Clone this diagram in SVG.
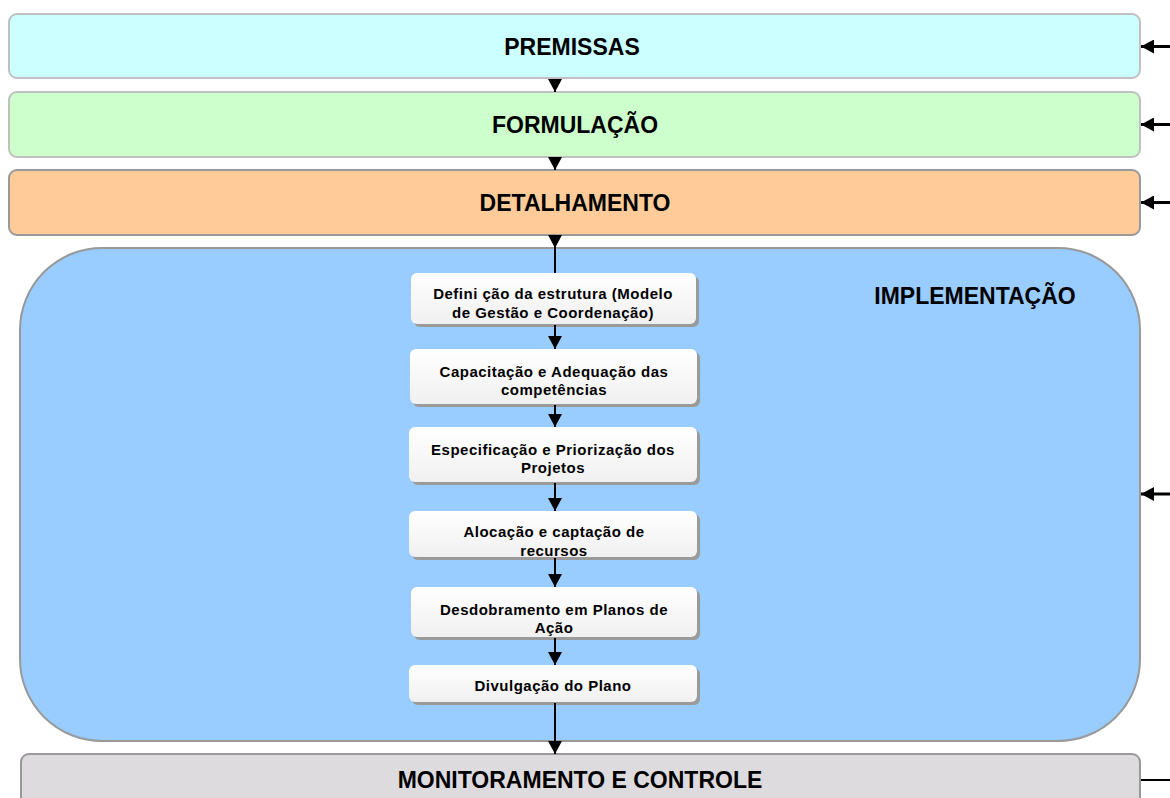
<svg xmlns="http://www.w3.org/2000/svg" width="1170" height="798" viewBox="0 0 1170 798">
  <style>
    .phase { stroke-width: 2; }
    .title { font-family: "Liberation Sans", Arial, sans-serif; font-weight: bold; font-size: 23px; fill: #000; text-anchor: middle; }
    .step-text { font-family: "Liberation Sans", Arial, sans-serif; font-weight: bold; font-size: 15px; letter-spacing: 0.5px; fill: #000; text-anchor: middle; }
    .step { fill: url(#stepFill); }
    .shadow { fill: #9a9a9a; }
    .link { stroke: #000; stroke-width: 2; fill: none; }
    .feed { stroke: #000; stroke-width: 3; fill: none; }
  </style>
  <defs>
    <linearGradient id="stepFill" x1="0" y1="0" x2="0" y2="1">
      <stop offset="0" stop-color="#ffffff"/>
      <stop offset="1" stop-color="#f0f0f0"/>
    </linearGradient>
    <marker id="down" markerUnits="userSpaceOnUse" markerWidth="14" markerHeight="14" refX="13" refY="7" orient="auto">
      <path d="M0,0 L13,7 L0,14 Z" fill="#000"/>
    </marker>
    <marker id="left" markerUnits="userSpaceOnUse" markerWidth="14" markerHeight="14" refX="13" refY="7" orient="auto">
      <path d="M0,0 L13,7 L0,14 Z" fill="#000"/>
    </marker>
  </defs>

  <!-- phase bands -->
  <g id="premissas">
    <rect class="phase" x="9" y="14" width="1131" height="64" rx="8" fill="#ccffff" stroke="#c0c0c0"/>
    <text class="title" x="572" y="55">PREMISSAS</text>
  </g>
  <g id="formulacao">
    <rect class="phase" x="9" y="92" width="1131" height="65" rx="8" fill="#ccffcc" stroke="#c0c0c0"/>
    <text class="title" x="575" y="133">FORMULAÇÃO</text>
  </g>
  <g id="detalhamento">
    <rect class="phase" x="9" y="170" width="1131" height="65" rx="8" fill="#ffcc99" stroke="#999999"/>
    <text class="title" x="575" y="211">DETALHAMENTO</text>
  </g>
  <g id="implementacao">
    <rect class="phase" x="20" y="248" width="1120" height="493" rx="82" fill="#99ccff" stroke="#999999"/>
    <text class="title" x="975" y="304">IMPLEMENTAÇÃO</text>
  </g>
  <g id="monitoramento">
    <rect class="phase" x="21" y="754" width="1119" height="70" rx="8" fill="#dddbdd" stroke="#999999"/>
    <text class="title" x="580" y="788">MONITORAMENTO E CONTROLE</text>
  </g>

  <!-- implementation steps -->
  <g id="step1">
    <rect class="shadow" x="414" y="276" width="285" height="51" rx="6"/>
    <rect class="step" x="411" y="273" width="285" height="51" rx="6"/>
    <text class="step-text" x="553" y="299">Defini ção da estrutura (Modelo</text>
    <text class="step-text" x="553" y="318">de Gestão e Coordenação)</text>
  </g>
  <g id="step2">
    <rect class="shadow" x="413" y="352" width="287" height="55" rx="6"/>
    <rect class="step" x="410" y="349" width="287" height="55" rx="6"/>
    <text class="step-text" x="554" y="377">Capacitação e Adequação das</text>
    <text class="step-text" x="554" y="395">competências</text>
  </g>
  <g id="step3">
    <rect class="shadow" x="412" y="430" width="288" height="55" rx="6"/>
    <rect class="step" x="409" y="427" width="288" height="55" rx="6"/>
    <text class="step-text" x="553" y="455">Especificação e Priorização dos</text>
    <text class="step-text" x="553" y="473">Projetos</text>
  </g>
  <g id="step4">
    <rect class="shadow" x="412" y="514" width="288" height="46" rx="6"/>
    <rect class="step" x="409" y="511" width="288" height="46" rx="6"/>
    <text class="step-text" x="554" y="537">Alocação e captação de</text>
    <text class="step-text" x="554" y="556">recursos</text>
  </g>
  <g id="step5">
    <rect class="shadow" x="414" y="590" width="286" height="50" rx="6"/>
    <rect class="step" x="411" y="587" width="286" height="50" rx="6"/>
    <text class="step-text" x="554" y="615">Desdobramento em Planos de</text>
    <text class="step-text" x="554" y="633">Ação</text>
  </g>
  <g id="step6">
    <rect class="shadow" x="412" y="668" width="288" height="37" rx="6"/>
    <rect class="step" x="409" y="665" width="288" height="37" rx="6"/>
    <text class="step-text" x="553" y="691">Divulgação do Plano</text>
  </g>

  <!-- connectors -->
  <g id="connectors">
    <line class="link" x1="555" y1="79" x2="555" y2="92" marker-end="url(#down)"/>
    <line class="link" x1="555" y1="158" x2="555" y2="170" marker-end="url(#down)"/>
    <line class="link" x1="555" y1="236" x2="555" y2="248" marker-end="url(#down)"/>
    <line class="link" x1="555" y1="248" x2="555" y2="273"/>
    <line class="link" x1="555" y1="325" x2="555" y2="349" marker-end="url(#down)"/>
    <line class="link" x1="555" y1="405" x2="555" y2="427" marker-end="url(#down)"/>
    <line class="link" x1="555" y1="483" x2="555" y2="511" marker-end="url(#down)"/>
    <line class="link" x1="555" y1="558" x2="555" y2="587" marker-end="url(#down)"/>
    <line class="link" x1="555" y1="638" x2="555" y2="665" marker-end="url(#down)"/>
    <line class="link" x1="555" y1="703" x2="555" y2="754" marker-end="url(#down)"/>

    <line class="feed" x1="1170" y1="46.5" x2="1141" y2="46.5" marker-end="url(#left)"/>
    <line class="feed" x1="1170" y1="124.5" x2="1141" y2="124.5" marker-end="url(#left)"/>
    <line class="feed" x1="1170" y1="202.5" x2="1141" y2="202.5" marker-end="url(#left)"/>
    <line class="feed" x1="1170" y1="494" x2="1141" y2="494" marker-end="url(#left)"/>
    <line class="link" x1="1141" y1="780" x2="1170" y2="780"/>
  </g>
</svg>
